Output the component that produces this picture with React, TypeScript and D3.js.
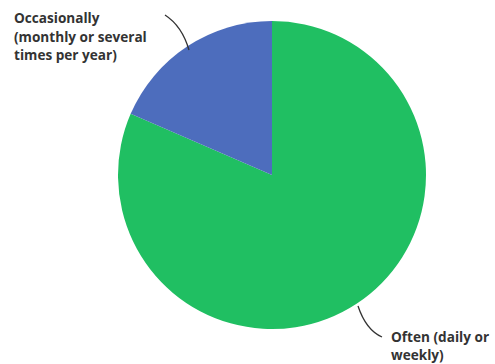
import React from "react";
import * as d3 from "d3";

const categories = ["Often (daily or weekly)", "Occasionally (monthly or several times per year)"];
const values = [81.5, 18.5];
const colors = ["#20bf62", "#4d6dbd"];
const labelLines = [["Often (daily or", "weekly)"], ["Occasionally", "(monthly or several", "times per year)"]];

const W = 495, H = 364;
const cx = 272, cy = 175, R = 154;

export default function App() {
  const pie = d3.pie<number>().sort(null).value((d) => d)(values);
  const arc = d3.arc<d3.PieArcDatum<number>>().innerRadius(0).outerRadius(R);
  const labelPos = [
    { x: 391, y: 342, dy: 17.5, path: "M358,306 Q366,330 382,337" },
    { x: 14, y: 23, dy: 18.5, path: "M165,15 Q182,26 189,50" },
  ];
  return (
    <svg width={W} height={H} style={{ position: "absolute", left: 0, top: 0, background: "#fff" }}>
      <g transform={`translate(${cx},${cy})`}>
        {pie.map((p, i) => (
          <path key={i} d={arc(p) || ""} fill={colors[i]} />
        ))}
      </g>
      {labelPos.map((lp, i) => (
        <g key={i}>
          <path d={lp.path} fill="none" stroke="#333" strokeWidth={1.3} />
          <text x={lp.x} y={lp.y} fontFamily="'Open Sans', sans-serif" fontWeight={700} fontSize={13.6} fill="#333">
            {labelLines[i].map((t, j) => (
              <tspan key={j} x={lp.x} dy={j === 0 ? 0 : lp.dy}>{t}</tspan>
            ))}
          </text>
        </g>
      ))}
    </svg>
  );
}
